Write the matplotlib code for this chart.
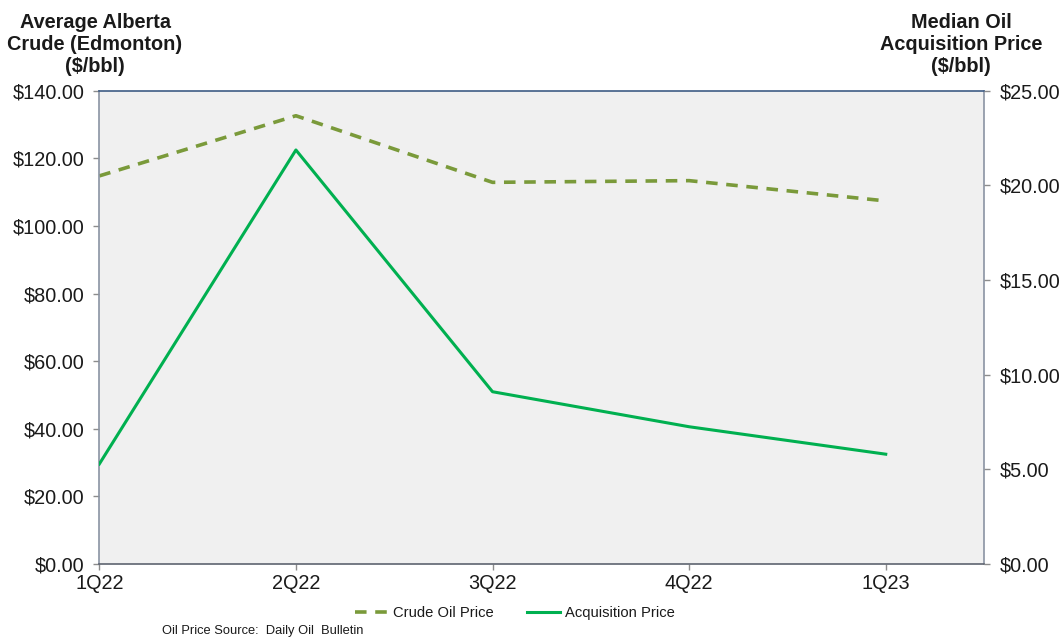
import matplotlib.pyplot as plt
from matplotlib.ticker import FuncFormatter, MultipleLocator

plt.rcParams["font.family"] = ["Liberation Sans", "DejaVu Sans"]

quarters = ["1Q22", "2Q22", "3Q22", "4Q22", "1Q23"]
crude_price = [114.8, 132.6, 112.9, 113.4, 107.4]
acquisition_price = [5.28, 21.87, 9.10, 7.25, 5.80]

CRUDE_COLOR = "#7A9A3A"
ACQ_COLOR = "#00B050"
BG_COLOR = "#F0F0F0"
TEXT_COLOR = "#1A1A1A"

fig = plt.figure(figsize=(10.62, 6.38), dpi=100)
ax = fig.add_axes([0.0935, 0.116, 0.8331, 0.7418])
ax2 = ax.twinx()

x = list(range(len(quarters)))
ax.set_facecolor(BG_COLOR)

crude_line, = ax.plot(x, crude_price, color=CRUDE_COLOR, linewidth=2.6,
                      linestyle=(0, (3.2, 2.4)), label="Crude Oil Price")
acq_line, = ax2.plot(x, acquisition_price, color=ACQ_COLOR, linewidth=2.2,
                     label="Acquisition Price")

ax.set_xlim(0, 4.5)
ax.set_ylim(0, 140)
ax2.set_ylim(0, 25)
ax.set_xticks(x)
ax.set_xticklabels(quarters)

ax.yaxis.set_major_locator(MultipleLocator(20))
ax2.yaxis.set_major_locator(MultipleLocator(5))
money = FuncFormatter(lambda v, _: f"${v:,.2f}")
ax.yaxis.set_major_formatter(money)
ax2.yaxis.set_major_formatter(money)

for a in (ax, ax2):
    a.tick_params(axis="both", labelsize=14.3, colors="#8C8C8C",
                  labelcolor=TEXT_COLOR, length=4.5, width=1, direction="out")
ax.tick_params(axis="y", pad=6)
ax2.tick_params(axis="y", pad=6.5)
ax.tick_params(axis="x", pad=3)

# spine styling
ax.spines["left"].set_color("#8A93A3")
ax.spines["bottom"].set_color("#5E6470")
ax.spines["top"].set_color("#3E5C85")
ax.spines["right"].set_color("#8A93A3")
for s in ("top", "right", "left", "bottom"):
    ax2.spines[s].set_visible(False)
for s in ax.spines.values():
    s.set_linewidth(1.2)

# axis titles
fig.text(95 / 1062, 1 - 44 / 638, "Average Alberta\nCrude (Edmonton)\n($/bbl)",
         ha="center", va="center", fontsize=14.3, fontweight="bold",
         color=TEXT_COLOR, linespacing=1.2)
fig.text(961 / 1062, 1 - 44 / 638, "Median Oil\nAcquisition Price\n($/bbl)",
         ha="center", va="center", fontsize=14.3, fontweight="bold",
         color=TEXT_COLOR, linespacing=1.2)

fig.legend(handles=[crude_line, acq_line], loc="center",
           bbox_to_anchor=(515 / 1062, 1 - 613 / 638), ncol=2, frameon=False,
           fontsize=10.6, handlelength=2.3, handletextpad=0.3, columnspacing=2.2,
           labelcolor=TEXT_COLOR)

fig.text(162 / 1062, 1 - 631 / 638, "Oil Price Source:  Daily Oil  Bulletin",
         ha="left", va="center", fontsize=9.3, color=TEXT_COLOR)

fig.savefig("out.png", dpi=100, facecolor="white")
